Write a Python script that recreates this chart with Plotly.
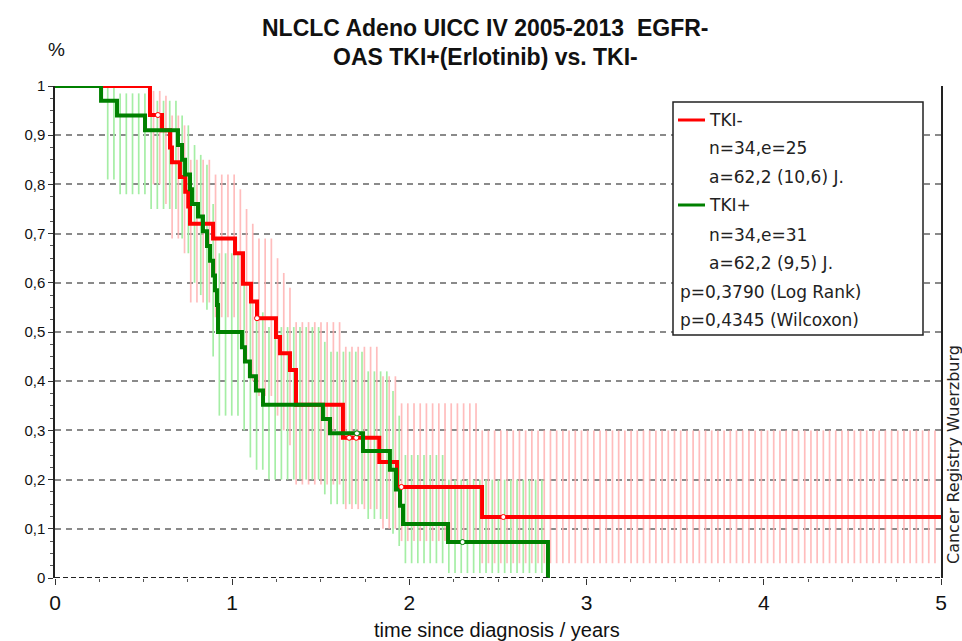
import numpy as np
import plotly.graph_objects as go

# ---------------- data ----------------
red_name = "TKI-"
red_t = [0, 0.536, 0.604, 0.649, 0.66, 0.705, 0.735, 0.752, 0.762, 0.892, 1.016, 1.061,
         1.106, 1.14, 1.247, 1.27, 1.326, 1.36, 1.625, 1.83, 1.93, 2.41]
red_s = [1, 0.941, 0.91, 0.875, 0.845, 0.815, 0.785, 0.755, 0.72, 0.69, 0.66, 0.598,
         0.562, 0.528, 0.49, 0.457, 0.423, 0.352, 0.285, 0.236, 0.185, 0.124]
red_up = [1, 0.99, 0.98, 0.96, 0.94, 0.92, 0.90, 0.88, 0.85, 0.82, 0.79, 0.75,
          0.72, 0.69, 0.65, 0.62, 0.59, 0.52, 0.47, 0.41, 0.355, 0.30]
red_lo = [1, 0.80, 0.76, 0.72, 0.69, 0.66, 0.63, 0.60, 0.56, 0.53, 0.50, 0.44,
          0.40, 0.37, 0.33, 0.30, 0.27, 0.19, 0.14, 0.10, 0.075, 0.03]
red_cens_t = [0.581, 1.14, 1.66, 1.70, 1.955, 2.53]
red_cens_s = [0.941, 0.528, 0.285, 0.285, 0.185, 0.124]

green_name = "TKI+"
green_t = [0, 0.26, 0.35, 0.508, 0.694, 0.717, 0.734, 0.762, 0.773, 0.807, 0.835, 0.858,
           0.875, 0.892, 0.903, 0.914, 0.920, 1.055, 1.072, 1.10, 1.134, 1.174, 1.512,
           1.552, 1.738, 1.89, 1.924, 1.947, 1.964, 2.218, 2.782]
green_s = [1, 0.97, 0.94, 0.91, 0.88, 0.85, 0.82, 0.79, 0.76, 0.735, 0.705, 0.675,
           0.645, 0.615, 0.585, 0.555, 0.50, 0.469, 0.44, 0.41, 0.381, 0.352, 0.323,
           0.294, 0.258, 0.22, 0.18, 0.147, 0.11, 0.073, 0.0]
green_up = [1, 1.0, 0.985, 0.97, 0.955, 0.94, 0.92, 0.90, 0.88, 0.86, 0.84, 0.81,
            0.79, 0.76, 0.74, 0.71, 0.66, 0.63, 0.60, 0.57, 0.54, 0.51, 0.48,
            0.46, 0.42, 0.38, 0.33, 0.29, 0.25, 0.20, 0.0]
green_lo = [1, 0.81, 0.78, 0.75, 0.72, 0.69, 0.66, 0.63, 0.60, 0.575, 0.545, 0.51,
            0.48, 0.45, 0.42, 0.39, 0.33, 0.30, 0.27, 0.245, 0.22, 0.20, 0.17,
            0.15, 0.12, 0.09, 0.065, 0.045, 0.03, 0.01, 0.0]
green_cens_t = [1.704, 2.30]
green_cens_s = [0.294, 0.073]

x_max = 5
y_tickvals = [0, 0.1, 0.2, 0.3, 0.4, 0.5, 0.6, 0.7, 0.8, 0.9, 1]
y_ticktext = ["0", "0,1", "0,2", "0,3", "0,4", "0,5", "0,6", "0,7", "0,8", "0,9", "1"]
x_tickvals = [0, 1, 2, 3, 4, 5]

legend_lines = ["TKI-", "n=34,e=25", "a=62,2 (10,6) J.", "TKI+", "n=34,e=31",
                "a=62,2 (9,5) J.", "p=0,3790 (Log Rank)", "p=0,4345 (Wilcoxon)"]
title_1 = "NLCLC Adeno UICC IV 2005-2013  EGFR-"
title_2 = "OAS TKI+(Erlotinib) vs. TKI-"
x_title = "time since diagnosis / years"
side_text = "Cancer Registry Wuerzburg"

RED = "#ff0000"
GREEN = "#008000"
PINK = "rgb(255,178,178)"
LGREEN = "rgb(165,238,165)"

W, H = 962, 641
L, R, T, B = 55, 21, 86, 63


def hatch(t, up, lo, t_end, spacing, offset):
    t = np.asarray(t)
    xs = np.arange(t[1] + offset, t_end, spacing)
    idx = np.searchsorted(t, xs, side="right") - 1
    X, Y = [], []
    for x, i in zip(xs, idx):
        X += [x, x, None]
        Y += [lo[i], up[i], None]
    return X, Y


fig = go.Figure()

sp = 0.035
rx, ry = hatch(red_t, red_up, red_lo, x_max, sp, 0.02)
gx, gy = hatch(green_t, green_up, green_lo, green_t[-1], sp, 0.0375)
fig.add_trace(go.Scatter(x=gx, y=gy, mode="lines", line=dict(color=LGREEN, width=1.7),
                         hoverinfo="skip", showlegend=False))
fig.add_trace(go.Scatter(x=rx, y=ry, mode="lines", line=dict(color=PINK, width=1.7),
                         opacity=0.85, hoverinfo="skip", showlegend=False))

fig.add_trace(go.Scatter(x=red_t + [x_max], y=red_s + [red_s[-1]], mode="lines",
                         line=dict(color=RED, width=4, shape="hv"), cliponaxis=False,
                         name=red_name, showlegend=False))
fig.add_trace(go.Scatter(x=green_t, y=green_s, mode="lines",
                         line=dict(color=GREEN, width=4, shape="hv"), cliponaxis=False,
                         name=green_name, showlegend=False))
fig.add_trace(go.Scatter(x=red_cens_t, y=red_cens_s, mode="markers",
                         marker=dict(symbol="circle", size=5, color="white",
                                     line=dict(color=RED, width=1)), showlegend=False))
fig.add_trace(go.Scatter(x=green_cens_t, y=green_cens_s, mode="markers",
                         marker=dict(symbol="circle", size=5, color="white",
                                     line=dict(color=GREEN, width=1)), showlegend=False))

# zero line (dashed, dark)
fig.add_shape(type="line", xref="paper", yref="y", x0=0, x1=1, y0=0, y1=0,
              line=dict(color="#222222", width=2, dash="5px,3px"), layer="above")


def px2paper_x(px):
    return (px - L) / (W - L - R)


def px2paper_y(py):
    return (H - B - py) / (H - T - B)


# legend box
fig.add_shape(type="rect", xref="paper", yref="paper",
              x0=px2paper_x(673), x1=px2paper_x(923), y0=px2paper_y(335), y1=px2paper_y(102),
              line=dict(color="#222222", width=1.5), fillcolor="white", layer="above")
leg_y = [120, 148, 177, 205, 235, 263, 292, 320]
leg_x = [707, 707, 707, 707, 707, 707, 678, 678]
for txt, yy, xx in zip(legend_lines, leg_y, leg_x):
    fig.add_annotation(text=txt, xref="paper", yref="paper", x=px2paper_x(xx), y=px2paper_y(yy),
                       xanchor="left", yanchor="middle", showarrow=False,
                       font=dict(family="DejaVu Sans", size=17, color="#222222"))
for yy, col in [(120, RED), (205, GREEN)]:
    fig.add_shape(type="line", xref="paper", yref="paper", x0=px2paper_x(678), x1=px2paper_x(705),
                  y0=px2paper_y(yy), y1=px2paper_y(yy), line=dict(color=col, width=3), layer="above")

# titles
for txt, yy in [(title_1, 28), (title_2, 57)]:
    fig.add_annotation(text=txt, xref="paper", yref="paper", x=px2paper_x(485), y=px2paper_y(yy),
                       xanchor="center", yanchor="middle", showarrow=False,
                       font=dict(family="Liberation Sans", size=23, color="#111111", weight="bold"))
fig.add_annotation(text="%", xref="paper", yref="paper", x=px2paper_x(56), y=px2paper_y(50),
                   xanchor="center", yanchor="middle", showarrow=False,
                   font=dict(family="Liberation Sans", size=19, color="#111111"))
fig.add_annotation(text=x_title, xref="paper", yref="paper", x=px2paper_x(497), y=px2paper_y(630),
                   xanchor="center", yanchor="middle", showarrow=False,
                   font=dict(family="Liberation Sans", size=20, color="#111111"))
fig.add_annotation(text=side_text, xref="paper", yref="paper", x=px2paper_x(953), y=px2paper_y(455),
                   xanchor="center", yanchor="middle", showarrow=False, textangle=-90,
                   font=dict(family="DejaVu Sans", size=16, color="#222222"))

fig.update_xaxes(range=[0, x_max], tickvals=x_tickvals, ticks="outside", ticklen=6,
                 tickwidth=1, tickcolor="#333333", showgrid=False, zeroline=False,
                 showline=False,
                 minor=dict(dtick=0.25, ticks="outside", ticklen=3, tickcolor="#555555", showgrid=False),
                 tickfont=dict(family="Liberation Sans", size=21, color="#111111"))
fig.update_yaxes(range=[0, 1], tickvals=y_tickvals, ticktext=y_ticktext, ticks="outside",
                 ticklen=5, tickwidth=1, tickcolor="#333333", showgrid=True,
                 gridcolor="#8a8a8a", gridwidth=2, griddash="6px,5px", zeroline=False,
                 showline=True, linecolor="#222222", linewidth=1.5, mirror=True,
                 minor=dict(dtick=0.025, ticks="outside", ticklen=3, tickcolor="#555555", showgrid=False),
                 tickfont=dict(family="Liberation Sans", size=15, color="#111111"))

fig.update_layout(width=W, height=H, margin=dict(l=L, r=R, t=T, b=B, pad=0),
                  paper_bgcolor="white", plot_bgcolor="white", showlegend=False)

fig.write_html("out.html")
